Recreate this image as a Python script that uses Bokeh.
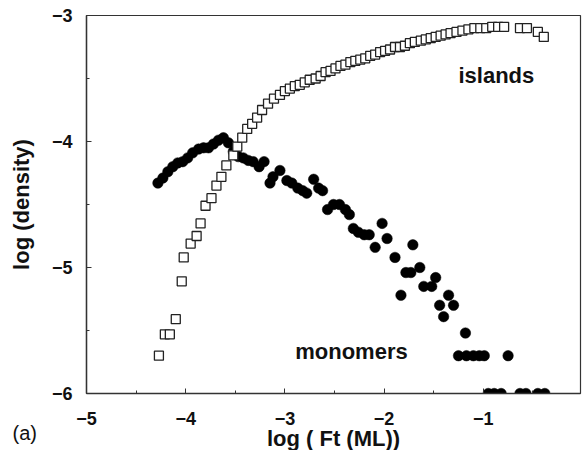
from bokeh.plotting import figure
from bokeh.models import FixedTicker, Label, Range1d, Title
from bokeh.embed import file_html
from bokeh.resources import INLINE

# ---- data ----
monomer_x = [-4.28, -4.23, -4.18, -4.13, -4.08, -4.03, -3.98, -3.93, -3.87, -3.82,
             -3.77, -3.72, -3.67, -3.62, -3.57, -3.52, -3.47, -3.42, -3.37, -3.32,
             -3.26, -3.21, -3.15, -3.12, -3.05, -2.98, -2.93, -2.87, -2.82, -2.78,
             -2.71, -2.66, -2.62, -2.57, -2.51, -2.45, -2.39, -2.35, -2.31, -2.26,
             -2.20, -2.15, -2.09, -2.02, -1.97, -1.89, -1.83, -1.78, -1.73, -1.71,
             -1.64, -1.60, -1.52, -1.48, -1.44, -1.40, -1.35, -1.30, -1.25, -1.18,
             -1.17, -1.10, -1.04, -0.99, -0.95, -0.89, -0.82, -0.75, -0.63, -0.57,
             -0.45, -0.38]
monomer_y = [-4.33, -4.29, -4.24, -4.20, -4.17, -4.16, -4.13, -4.09, -4.06, -4.05,
             -4.05, -4.02, -3.99, -3.97, -4.01, -4.08, -4.12, -4.13, -4.15, -4.16,
             -4.20, -4.16, -4.33, -4.28, -4.23, -4.31, -4.33, -4.37, -4.39, -4.41,
             -4.30, -4.37, -4.39, -4.54, -4.50, -4.50, -4.54, -4.58, -4.69, -4.72,
             -4.74, -4.74, -4.84, -4.65, -4.77, -4.92, -5.22, -5.04, -5.04, -4.82,
             -5.00, -5.15, -5.15, -5.08, -5.30, -5.39, -5.22, -5.30, -5.70, -5.52,
             -5.70, -5.70, -5.70, -5.70, -6.00, -6.00, -6.00, -5.70, -6.00, -6.00,
             -6.00, -6.00]

island_x = [-4.27, -4.21, -4.16, -4.10, -4.04, -4.02, -3.95, -3.89, -3.85, -3.80,
            -3.74, -3.69, -3.64, -3.59, -3.52, -3.48, -3.43, -3.38, -3.33, -3.28,
            -3.23, -3.17, -3.11, -3.05, -3.00, -2.95, -2.90, -2.85, -2.80, -2.75,
            -2.69, -2.64, -2.59, -2.54, -2.49, -2.44, -2.39, -2.34, -2.29, -2.24,
            -2.19, -2.14, -2.09, -2.04, -1.99, -1.94, -1.89, -1.84, -1.79, -1.74,
            -1.69, -1.63, -1.58, -1.53, -1.48, -1.43, -1.38, -1.33, -1.27, -1.21,
            -1.15, -1.09, -1.03, -0.97, -0.91, -0.85, -0.79, -0.63, -0.56, -0.45,
            -0.39]
island_y = [-5.70, -5.53, -5.53, -5.41, -5.11, -4.92, -4.81, -4.75, -4.65, -4.51,
            -4.45, -4.35, -4.28, -4.19, -4.11, -4.04, -3.97, -3.90, -3.86, -3.81,
            -3.75, -3.70, -3.66, -3.63, -3.60, -3.58, -3.56, -3.55, -3.53, -3.51,
            -3.50, -3.48, -3.45, -3.44, -3.42, -3.40, -3.39, -3.37, -3.36, -3.35,
            -3.34, -3.32, -3.31, -3.29, -3.28, -3.27, -3.25, -3.25, -3.24, -3.22,
            -3.21, -3.20, -3.19, -3.18, -3.17, -3.16, -3.15, -3.14, -3.13, -3.12,
            -3.11, -3.10, -3.10, -3.10, -3.09, -3.09, -3.09, -3.10, -3.10, -3.13,
            -3.17]

x_ticks = [-5, -4, -3, -2, -1, 0]
x_minor_ticks = [-4.5, -3.5, -2.5, -1.5, -0.5]
x_tick_labels = ["\u22125", "\u22124", "\u22123", "\u22122", "\u22121", "0"]
y_ticks = [-6, -5, -4, -3]
y_minor_ticks = [-5.5, -4.5, -3.5]
y_tick_labels = ["\u22126", "\u22125", "\u22124", "\u22123"]

x_title = "log ( Ft (ML))"
y_title = "log (density)"
panel_tag = "(a)"
series_names = ["islands", "monomers"]

FONT = "Liberation Sans"
INK = "#111111"
AXIS = "#333333"

p = figure(width=582, height=450,
           x_range=Range1d(-5, -0.02), y_range=Range1d(-6, -3),
           output_backend="svg", toolbar_location=None,
           min_border_left=86, min_border_top=15, min_border_right=2,
           min_border_bottom=57,
           background_fill_color="white", border_fill_color="white")
p.outline_line_color = AXIS
p.outline_line_width = 1.2
p.grid.visible = False

# markers: monomers (filled circles) under islands (open squares)
p.scatter(monomer_x, monomer_y, marker="circle", size=10.5,
          fill_color="black", line_color="black", line_width=0.5)
p.scatter(island_x, island_y, marker="square", size=9,
          fill_color="white", line_color="#222222", line_width=1.3)

# bottom / left axes
xa = p.xaxis[0]
ya = p.yaxis[0]
xa.ticker = FixedTicker(ticks=x_ticks, minor_ticks=x_minor_ticks)
ya.ticker = FixedTicker(ticks=y_ticks, minor_ticks=y_minor_ticks)
xa.major_label_overrides = dict(zip(x_ticks, x_tick_labels))
ya.major_label_overrides = dict(zip(y_ticks, y_tick_labels))
ya.axis_label = y_title
for ax in (xa, ya):
    ax.axis_line_color = AXIS
    ax.axis_line_width = 1.4
    ax.major_tick_in = 5
    ax.major_tick_out = 0
    ax.minor_tick_in = 3
    ax.minor_tick_out = 0
    ax.major_tick_line_color = AXIS
    ax.minor_tick_line_color = AXIS
    ax.major_label_text_font = FONT
    ax.major_label_text_font_style = "bold"
    ax.major_label_text_font_size = "18px"
    ax.major_label_text_color = INK
    ax.axis_label_text_font = FONT
    ax.axis_label_text_font_style = "bold"
    ax.axis_label_text_font_size = "22px"
    ax.axis_label_text_color = INK
xa.major_label_standoff = 18
ya.major_label_standoff = 14
ya.axis_label_standoff = 15

# panel tag "(a)" and x title, both pulled up onto one line under the ticks
tag = Title(text=panel_tag, align="left", vertical_align="top",
            offset=-74, standoff=-12, text_font=FONT, text_font_size="20px",
            text_font_style="normal", text_color=INK)
xt = Title(text=x_title, align="center", vertical_align="top",
           standoff=-27, text_font=FONT, text_font_size="22px",
           text_font_style="bold", text_color=INK)
p.add_layout(tag, "below")
p.add_layout(xt, "below")

# in-plot texts
p.add_layout(Label(x=-1.25, y=-3.475, text=series_names[0], text_font=FONT,
                   text_font_style="bold", text_font_size="22px",
                   text_color=INK, text_align="left", text_baseline="alphabetic"))
p.add_layout(Label(x=-2.896, y=-5.668, text=series_names[1], text_font=FONT,
                   text_font_style="bold", text_font_size="22px",
                   text_color=INK, text_align="left", text_baseline="alphabetic"))

open("out.html", "w").write(file_html(p, INLINE))
